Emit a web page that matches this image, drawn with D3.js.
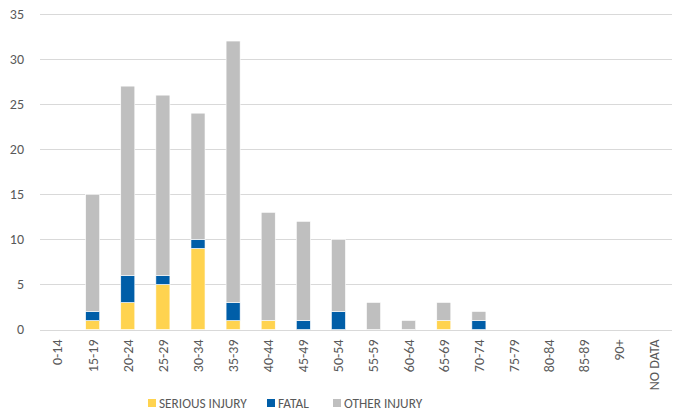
<!DOCTYPE html>
<html>
<head>
<meta charset="utf-8">
<script src="https://cdn.jsdelivr.net/npm/d3@7"></script>
<style>
  body { margin: 0; background: #fff; }
  svg { display: block; font-family: Calibri, Carlito, Lato, "Liberation Sans", sans-serif; }
</style>
</head>
<body>
<div id="chart"></div>
<script>
(function () {

  // Age groups
  const ageGroups = ["0-14", "15-19", "20-24", "25-29", "30-34", "35-39", "40-44", "45-49",
    "50-54", "55-59", "60-64", "65-69", "70-74", "75-79", "80-84", "85-89", "90+", "NO DATA"];

  // Series values (stacked in this order, bottom up)
  const serious = [0, 1, 3, 5, 9, 1, 1, 0, 0, 0, 0, 1, 0, 0, 0, 0, 0, 0];
  const fatal   = [0, 1, 3, 1, 1, 2, 0, 1, 2, 0, 0, 0, 1, 0, 0, 0, 0, 0];
  const other   = [0, 13, 21, 20, 14, 29, 12, 11, 8, 3, 1, 2, 1, 0, 0, 0, 0, 0];

  const seriesNames = ["SERIOUS INJURY", "FATAL", "OTHER INJURY"];
  const yTicks = [0, 5, 10, 15, 20, 25, 30, 35];

  const table = ageGroups.map((g, i) => ({
    group: g,
    "SERIOUS INJURY": serious[i],
    "FATAL": fatal[i],
    "OTHER INJURY": other[i]
  }));

  const W = 673, H = 413;
  const margin = { top: 14, right: 1, bottom: 83.5, left: 40 };
  const width = W - margin.left - margin.right,
        height = H - margin.top - margin.bottom;

  const svg = d3.select("#chart")
    .append("svg")
    .attr("width", W)
    .attr("height", H);

  const g = svg.append("g")
    .attr("transform", `translate(${margin.left},${margin.top})`);

  const x = d3.scaleBand()
    .domain(ageGroups)
    .range([0, width])
    .paddingInner(0.6)
    .paddingOuter(0.3);

  const y = d3.scaleLinear()
    .domain([0, 35])
    .range([height, 0]);

  const color = d3.scaleOrdinal()
    .domain(seriesNames)
    .range(["#FFD34F", "#005EA8", "#BFBFBF"]);

  // Gridlines
  g.append("g")
    .selectAll("line")
    .data(yTicks)
    .enter()
    .append("line")
    .attr("x1", 0)
    .attr("x2", width)
    .attr("y1", d => Math.round(y(d)) + 0.5)
    .attr("y2", d => Math.round(y(d)) + 0.5)
    .attr("stroke", "#D9D9D9")
    .attr("stroke-width", 1);

  // Y tick labels
  g.append("g")
    .selectAll("text")
    .data(yTicks)
    .enter()
    .append("text")
    .attr("x", -16)
    .attr("y", d => y(d))
    .attr("dy", "0.35em")
    .attr("text-anchor", "end")
    .style("font-size", "14px")
    .style("fill", "#595959")
    .text(d => d);

  // Stacked bars
  const stack = d3.stack().keys(seriesNames);
  const layers = stack(table);

  g.append("g")
    .selectAll("g")
    .data(layers)
    .enter()
    .append("g")
    .attr("fill", d => color(d.key))
    .selectAll("rect")
    .data(d => d.filter(s => s[1] - s[0] > 0))
    .enter()
    .append("rect")
    .attr("x", d => x(d.data.group))
    .attr("y", d => y(d[1]))
    .attr("width", x.bandwidth())
    .attr("height", d => y(d[0]) - y(d[1]))
    .attr("stroke", "#ffffff")
    .attr("stroke-width", 0.6);

  // X labels, rotated
  g.append("g")
    .selectAll("text")
    .data(ageGroups)
    .enter()
    .append("text")
    .attr("transform", d => `translate(${x(d) + x.bandwidth() / 2},${height + 10}) rotate(-90)`)
    .attr("dy", "0.35em")
    .attr("text-anchor", "end")
    .style("font-size", "14px")
    .style("fill", "#595959")
    .text(d => d);

  // Legend
  const legendX = [148, 267, 333];
  const legend = svg.append("g")
    .selectAll("g")
    .data(seriesNames)
    .enter()
    .append("g")
    .attr("transform", (d, i) => `translate(${legendX[i]},403)`);

  legend.append("rect")
    .attr("x", 0)
    .attr("y", -4)
    .attr("width", 8)
    .attr("height", 8)
    .attr("fill", d => color(d));

  legend.append("text")
    .attr("x", 11)
    .attr("y", 0)
    .attr("dy", "0.35em")
    .style("font-size", "13.3px")
    .style("fill", "#595959")
    .text(d => d);

})();
</script>
</body>
</html>
